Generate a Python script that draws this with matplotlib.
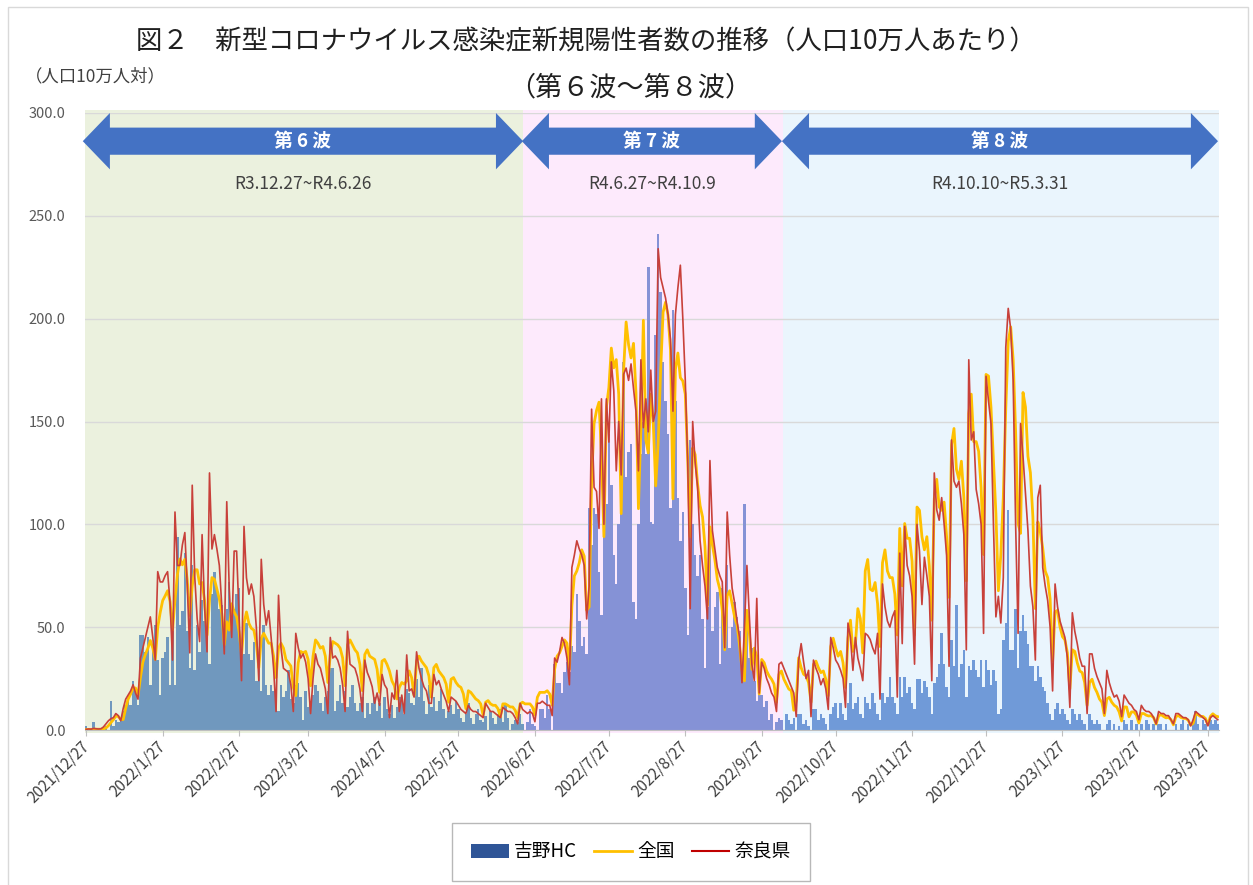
import numpy as np
import pandas as pd
import matplotlib
matplotlib.use('Agg')
import matplotlib.pyplot as plt
from matplotlib.patches import Polygon, Rectangle, Patch
from matplotlib.lines import Line2D

plt.rcParams['font.family'] = ['Noto Sans CJK JP', 'DejaVu Sans']

# daily values per 100k, from 2021/12/27 (one row = one week, Mon..Sun)
start = pd.Timestamp('2021-12-27')

yoshino = [
    2, 0, 0, 4, 0, 0, 0,
    0, 2, 0, 14, 2, 5, 4,
    5, 9, 12, 14, 12, 24, 20,
    12, 46, 46, 38, 45, 22, 40,
    51, 34, 17, 35, 38, 45, 22,
    48, 22, 94, 51, 58, 86, 48,
    30, 80, 29, 51, 38, 63, 53,
    48, 32, 66, 77, 69, 59, 61,
    45, 59, 72, 61, 59, 66, 69,
    40, 37, 52, 37, 34, 43, 24,
    32, 19, 51, 22, 17, 22, 19,
    16, 9, 22, 16, 19, 29, 15,
    13, 22, 23, 16, 5, 19, 11,
    14, 17, 22, 19, 13, 9, 16,
    19, 30, 30, 9, 14, 22, 13,
    19, 11, 16, 22, 13, 9, 13,
    16, 6, 13, 8, 13, 16, 9,
    13, 6, 16, 10, 8, 12, 6,
    11, 16, 14, 8, 20, 18, 13,
    12, 25, 16, 30, 14, 8, 22,
    11, 16, 9, 14, 20, 10, 6,
    9, 12, 8, 14, 10, 6, 4,
    8, 13, 6, 3, 8, 10, 5,
    4, 7, 0, 9, 6, 3, 8,
    10, 4, 12, 6, 0, 3, 5,
    4, 8, 3, 0, 4, 10, 3,
    2, 0, 10, 10, 6, 17, 10,
    0, 32, 23, 23, 18, 28, 33,
    28, 41, 38, 66, 53, 41, 45,
    37, 108, 90, 108, 105, 77, 56,
    98, 110, 144, 119, 85, 71, 100,
    119, 179, 123, 135, 139, 62, 54,
    100, 134, 150, 134, 225, 101, 100,
    192, 241, 213, 179, 160, 144, 108,
    204, 160, 113, 92, 106, 69, 46,
    141, 100, 85, 75, 85, 54, 30,
    60, 95, 48, 60, 67, 32, 69,
    55, 80, 40, 50, 62, 55, 48,
    28, 110, 58, 35, 40, 24, 14,
    20, 17, 11, 14, 5, 8, 0,
    4, 6, 5, 0, 8, 5, 3,
    6, 0, 8, 8, 3, 5, 2,
    0, 10, 10, 5, 8, 6, 3,
    0, 8, 11, 13, 6, 13, 8,
    5, 13, 23, 10, 13, 16, 8,
    6, 16, 13, 10, 18, 13, 8,
    5, 18, 13, 16, 26, 16, 13,
    8, 26, 16, 26, 18, 21, 13,
    10, 25, 25, 18, 24, 21, 16,
    8, 23, 26, 32, 47, 32, 21,
    16, 44, 31, 61, 26, 32, 39,
    16, 31, 29, 34, 29, 26, 34,
    21, 34, 29, 22, 29, 24, 8,
    10, 44, 52, 107, 39, 39, 59,
    30, 48, 56, 48, 42, 31, 31,
    24, 31, 26, 21, 19, 13, 8,
    5, 10, 13, 8, 10, 8, 5,
    3, 10, 8, 5, 8, 5, 3,
    0, 8, 5, 3, 5, 3, 0,
    0, 3, 5, 0, 3, 0, 2,
    0, 5, 3, 0, 5, 0, 3,
    0, 3, 0, 5, 3, 0, 3,
    0, 3, 3, 0, 3, 0, 0,
    0, 3, 0, 3, 5, 0, 3,
    0, 5, 9, 3, 0, 5, 3,
    0, 5, 3, 5, 3,
]

zenkoku = [
    0.2, 0.3, 0.3, 0.4, 0.4, 0.4, 0.4,
    0.6, 1.0, 2.1, 3.6, 5.0, 6.8, 6.6,
    5.1, 5.1, 10.6, 15.0, 17.5, 20.5, 20.4,
    16.5, 25.7, 33.1, 36.8, 39.7, 43.5, 39.9,
    34.3, 49.9, 57.1, 62.9, 65.2, 67.7, 62.5,
    48.6, 63.2, 75.6, 83.2, 80.3, 83.0, 72.6,
    55.7, 70.1, 77.9, 77.9, 71.0, 71.7, 63.0,
    46.1, 63.1, 74.1, 73.3, 68.5, 63.7, 56.6,
    41.4, 52.6, 48.6, 61.4, 57.4, 55.0, 47.8,
    36.7, 51.8, 57.4, 51.8, 49.4, 48.6, 42.2,
    30.3, 44.6, 47.0, 44.6, 42.2, 42.2, 35.9,
    25.5, 39.8, 42.2, 39.8, 34.3, 32.7, 31.1,
    20.7, 16.7, 32.7, 38.2, 37.5, 38.2, 34.3,
    21.5, 35.9, 43.8, 42.2, 39.8, 40.6, 35.9,
    23.1, 36.7, 43.0, 42.2, 41.4, 39.8, 35.1,
    21.5, 41.4, 43.8, 41.4, 39.0, 37.5, 31.9,
    19.1, 36.7, 39.0, 35.9, 35.1, 34.3, 29.5,
    18.3, 33.5, 34.3, 31.9, 28.7, 23.9, 21.5,
    15.1, 20.7, 23.1, 22.3, 23.9, 28.7, 25.5,
    16.7, 33.5, 35.9, 33.5, 31.9, 30.3, 26.3,
    15.9, 30.3, 31.9, 28.7, 27.1, 25.5, 22.3,
    13.5, 24.7, 25.5, 23.1, 21.5, 20.7, 17.5,
    10.4, 19.1, 18.3, 16.7, 15.1, 14.3, 12.7,
    7.2, 13.5, 14.3, 12.7, 12.0, 12.0, 10.4,
    6.4, 12.7, 12.7, 12.0, 11.2, 11.2, 9.6,
    6.0, 12.7, 13.5, 12.7, 12.7, 12.7, 11.2,
    7.2, 15.9, 18.3, 18.3, 18.3, 19.1, 17.5,
    12.0, 29.5, 35.9, 37.5, 40.6, 43.8, 42.2,
    29.5, 60.6, 74.9, 77.3, 81.3, 87.6, 84.5,
    58.2, 59.8, 121.1, 149.0, 155.4, 159.4, 133.9,
    94.0, 157.0, 166.5, 185.7, 176.1, 180.1, 163.3,
    105.2, 175.3, 198.4, 187.3, 180.9, 188.0, 164.1,
    107.6, 147.4, 199.2, 141.0, 134.7, 163.3, 149.8,
    118.7, 139.4, 174.5, 203.2, 208.0, 201.6, 184.9,
    112.4, 175.3, 183.3, 171.3, 169.7, 163.3, 130.7,
    94.0, 137.1, 133.9, 119.5, 109.2, 103.6, 89.2,
    60.6, 98.8, 90.0, 82.9, 73.3, 68.5, 58.2,
    39.0, 65.3, 67.7, 61.4, 55.0, 51.0, 41.4,
    29.5, 23.9, 58.2, 47.0, 29.5, 39.8, 35.9,
    17.5, 34.3, 32.7, 28.7, 26.3, 24.7, 22.3,
    13.5, 27.1, 28.7, 24.7, 22.3, 19.9, 19.1,
    9.6, 14.3, 35.1, 30.3, 27.1, 26.3, 23.1,
    13.5, 31.9, 33.5, 30.3, 27.9, 28.7, 24.7,
    16.7, 40.6, 44.6, 39.8, 35.9, 38.2, 32.7,
    20.7, 44.6, 53.4, 38.2, 41.4, 59.0, 54.2,
    37.5, 77.3, 82.9, 68.5, 67.7, 71.7, 61.4,
    40.6, 81.3, 87.6, 77.3, 74.1, 74.1, 66.1,
    46.2, 98.0, 70.1, 100.4, 93.2, 93.2, 82.1,
    46.2, 108.4, 106.8, 94.0, 87.6, 94.0, 79.7,
    53.4, 112.4, 121.9, 108.4, 106.8, 110.8, 94.0,
    64.5, 138.6, 146.6, 126.7, 121.9, 130.7, 113.1,
    72.5, 153.8, 163.3, 140.2, 140.2, 135.5, 117.9,
    85.3, 172.9, 172.1, 157.0, 130.7, 105.2, 67.7,
    85.3, 113.1, 156.2, 188.8, 196.0, 180.1, 145.0,
    100.4, 95.6, 164.1, 157.0, 133.1, 125.1, 103.6,
    59.0, 101.2, 96.4, 88.4, 77.3, 74.1, 63.7,
    33.5, 57.4, 58.2, 50.2, 45.4, 43.8, 37.5,
    19.9, 39.0, 38.2, 32.7, 28.7, 27.9, 23.1,
    12.0, 23.1, 24.7, 20.7, 18.3, 15.1, 13.5,
    7.0, 15.1, 15.9, 13.5, 12.0, 11.2, 8.8,
    4.4, 11.2, 11.2, 6.4, 8.8, 8.8, 7.2,
    3.4, 8.0, 8.0, 7.2, 6.8, 7.0, 6.0,
    2.9, 6.8, 7.5, 6.6, 5.9, 6.1, 5.1,
    2.5, 6.4, 7.1, 6.1, 5.7, 5.6, 4.8,
    2.4, 3.2, 8.0, 7.4, 6.6, 6.6, 5.6,
    2.6, 6.6, 7.9, 6.9, 6.5,
]

nara = [
    0.3, 0.5, 0.4, 0.8, 0.6, 0.5, 0.6,
    1.5, 3.0, 4.5, 5.5, 6.0, 8.0, 7.0,
    4.5, 10.5, 15.0, 17.0, 19.0, 22.0, 18.0,
    15.0, 35.0, 40.0, 45.0, 50.0, 55.0, 45.0,
    34.0, 77.0, 72.0, 72.0, 75.0, 77.0, 62.0,
    34.0, 106.0, 80.0, 80.0, 90.0, 96.0, 70.0,
    37.5, 119.0, 75.0, 54.0, 43.0, 95.0, 60.0,
    38.0, 125.0, 88.0, 95.0, 88.0, 80.0, 60.0,
    37.0, 111.0, 69.0, 45.0, 87.0, 87.0, 55.0,
    24.0, 99.0, 74.0, 66.0, 71.0, 65.0, 50.0,
    24.0, 83.0, 61.0, 51.0, 58.0, 45.0, 30.0,
    9.0, 65.5, 40.0, 30.0, 29.0, 28.0, 22.0,
    9.0, 47.0, 40.0, 35.0, 37.0, 33.0, 25.0,
    8.0, 25.0, 37.0, 32.0, 30.0, 25.0, 20.0,
    8.0, 45.0, 35.0, 36.0, 34.0, 30.0, 22.0,
    9.0, 48.0, 32.0, 31.0, 30.0, 26.0, 20.0,
    9.0, 34.0, 28.0, 25.0, 21.0, 13.0, 18.0,
    12.0, 27.0, 22.0, 20.0, 6.0, 18.0, 15.0,
    29.0, 9.0, 17.0, 8.0, 36.5, 19.0, 20.0,
    16.0, 38.0, 30.0, 25.0, 21.0, 19.0, 13.0,
    13.0, 27.0, 22.0, 24.0, 20.0, 17.0, 14.0,
    9.0, 16.0, 15.0, 14.0, 12.0, 10.0, 9.0,
    8.0, 12.0, 10.0, 9.0, 9.0, 8.0, 7.0,
    6.0, 13.0, 11.0, 9.0, 9.0, 8.0, 7.0,
    6.0, 11.0, 10.0, 9.0, 9.0, 8.0, 6.0,
    3.0, 13.0, 10.0, 9.0, 8.0, 9.0, 8.0,
    4.0, 13.0, 13.0, 14.0, 13.0, 12.0, 12.0,
    7.0, 35.0, 33.0, 38.0, 45.0, 42.0, 35.0,
    22.0, 79.0, 85.0, 92.0, 88.0, 85.0, 80.0,
    54.0, 70.0, 156.0, 118.0, 116.0, 98.0, 161.0,
    100.0, 161.0, 140.0, 179.0, 165.0, 126.0, 150.0,
    124.0, 173.0, 176.0, 170.0, 178.0, 166.0, 155.0,
    126.0, 180.0, 147.0, 161.0, 145.0, 175.0, 150.0,
    155.0, 234.0, 220.0, 215.0, 210.0, 202.0, 190.0,
    155.0, 202.0, 215.0, 226.0, 200.0, 170.0, 130.0,
    59.0, 150.0, 130.0, 118.0, 92.0, 80.0, 70.0,
    54.0, 131.0, 97.0, 88.0, 79.0, 75.0, 72.0,
    40.0, 106.0, 85.0, 69.0, 62.0, 53.0, 45.0,
    23.0, 50.0, 80.0, 55.0, 32.0, 24.0, 64.0,
    18.0, 33.0, 30.0, 25.0, 22.0, 18.0, 16.0,
    9.0, 32.0, 33.0, 30.0, 27.0, 24.0, 21.0,
    18.0, 6.5, 34.0, 42.0, 33.0, 25.0, 29.0,
    6.5, 34.0, 30.0, 27.0, 22.0, 25.0, 20.0,
    10.0, 45.0, 40.0, 34.0, 32.0, 29.0, 25.0,
    11.0, 52.0, 45.0, 29.0, 45.0, 35.0, 30.0,
    24.0, 47.0, 46.0, 44.0, 40.0, 37.0, 47.0,
    15.0, 71.0, 60.0, 53.0, 50.0, 55.0, 58.0,
    16.0, 86.0, 42.0, 99.0, 80.0, 75.0, 65.0,
    32.0, 100.0, 87.0, 61.0, 84.0, 75.0, 65.0,
    24.0, 125.0, 107.0, 102.0, 113.0, 100.0, 85.0,
    31.0, 141.0, 121.0, 118.0, 121.0, 110.0, 95.0,
    39.0, 180.0, 141.0, 145.0, 117.0, 110.0, 100.0,
    47.0, 172.0, 160.0, 149.0, 100.0, 55.0, 65.0,
    52.0, 74.0, 186.0, 205.0, 195.0, 170.0, 100.0,
    47.0, 149.0, 133.0, 115.0, 97.0, 70.0, 60.0,
    34.0, 113.0, 119.0, 79.0, 70.0, 63.0, 50.0,
    19.0, 71.0, 60.0, 53.0, 49.0, 45.0, 35.0,
    11.0, 57.0, 48.0, 42.0, 35.0, 31.0, 31.0,
    8.0, 37.0, 37.0, 30.0, 26.0, 23.0, 20.0,
    8.0, 29.0, 23.0, 19.0, 16.0, 17.0, 14.0,
    6.5, 17.0, 15.0, 13.0, 12.0, 10.0, 9.0,
    5.0, 12.0, 10.0, 9.0, 9.0, 8.0, 6.0,
    3.0, 9.0, 8.0, 8.0, 7.0, 7.0, 5.0,
    3.0, 8.0, 8.0, 7.0, 6.0, 6.0, 5.0,
    2.0, 5.0, 9.0, 8.0, 7.0, 6.0, 5.0,
    2.0, 6.0, 7.0, 6.0, 5.0,
]

assert len(yoshino) == len(zenkoku) == len(nara) == 460, (len(yoshino), len(zenkoku), len(nara))

series_names = ['吉野HC', '全国', '奈良県']
tick_labels = ['2021/12/27', '2022/1/27', '2022/2/27', '2022/3/27', '2022/4/27',
               '2022/5/27', '2022/6/27', '2022/7/27', '2022/8/27', '2022/9/27',
               '2022/10/27', '2022/11/27', '2022/12/27', '2023/1/27',
               '2023/2/27', '2023/3/27']
wave_names = ['第 6 波', '第 7 波', '第 8 波']
wave_periods = ['R3.12.27~R4.6.26', 'R4.6.27~R4.10.9', 'R4.10.10~R5.3.31']

# layout (in day units along the x axis)
shade_edges = [-0.5, 177.2, 282.6, 459.5]
arrow_edges = [(-1.4, 177.2), (176.7, 282.2), (282.2, 459.1)]
bg_colors = ['#ebf1de', '#fdeafc', '#eaf5fd']
bar_colors = ['#7098be', '#8592d6', '#709ad8']

x = np.arange(len(yoshino))
zone = np.searchsorted(shade_edges[1:3], x)
colors = [bar_colors[z] for z in zone]

fig = plt.figure(figsize=(12.53, 8.85), dpi=100)
ax = fig.add_axes([85 / 1253, 1 - 730 / 885, (1219 - 85) / 1253, (730 - 113) / 885])

for i in range(3):
    ax.add_patch(Rectangle((shade_edges[i], -1.5), shade_edges[i + 1] - shade_edges[i], 303,
                           facecolor=bg_colors[i], edgecolor='none', zorder=0, clip_on=False))

ax.bar(x, yoshino, width=1.0, color=colors, linewidth=0, zorder=2)
ax.plot(x, zenkoku, color='#ffc000', lw=2.0, zorder=3)
ax.plot(x, nara, color='#c8403a', lw=1.2, zorder=4)

# double arrows
yc, hh, sh, hl = 286.3, 13.7, 6.6, 11
for (x0, x1), name, period in zip(arrow_edges, wave_names, wave_periods):
    verts = [(x0, yc), (x0 + hl, yc + hh), (x0 + hl, yc + sh), (x1 - hl, yc + sh),
             (x1 - hl, yc + hh), (x1, yc), (x1 - hl, yc - hh), (x1 - hl, yc - sh),
             (x0 + hl, yc - sh), (x0 + hl, yc - hh)]
    ax.add_patch(Polygon(verts, closed=True, facecolor='#4472c4', edgecolor='none',
                         zorder=5, clip_on=False))
    ax.text((x0 + x1) / 2, yc, name, color='white', fontsize=13.5, fontweight='bold',
            ha='center', va='center', zorder=6)
    ax.text((x0 + x1) / 2, 265.5, period, color='#404040', fontsize=12.5,
            ha='center', va='center', zorder=6)

ax.set_xlim(-0.5, 459.5)
ax.set_ylim(0, 300)
ax.set_yticks(np.arange(0, 301, 50))
ax.set_yticklabels([f'{v:.1f}' for v in np.arange(0, 301, 50)], color='#595959', fontsize=10.5)
tick_days = [(pd.Timestamp(t) - start).days for t in tick_labels]
ax.set_xticks(tick_days)
ax.set_xticklabels(tick_labels, rotation=45, ha='right', va='center',
                   rotation_mode='anchor', fontsize=11, color='#404040')
ax.tick_params(axis='y', length=0, pad=14)
ax.tick_params(axis='x', length=4, color='#bfbfbf', pad=6)
ax.yaxis.grid(True, color='#d9d9d9', lw=1)
ax.set_axisbelow(True)
for s in ['top', 'right', 'left']:
    ax.spines[s].set_visible(False)
ax.spines['bottom'].set_color('#bfbfbf')

fig.text(586 / 1253, 1 - 42 / 885, '図２　新型コロナウイルス感染症新規陽性者数の推移（人口10万人あたり）',
         ha='center', va='center', fontsize=19, color='#202020')
fig.text(630 / 1253, 1 - 88 / 885, '（第６波～第８波）', ha='center', va='center',
         fontsize=19.5, color='#202020')
fig.text(95 / 1253, 1 - 76 / 885, '（人口10万人対）', ha='center', va='center',
         fontsize=12.5, color='#404040')

handles = [Patch(facecolor='#2f5597', edgecolor='none'),
           Line2D([], [], color='#ffc000', lw=2),
           Line2D([], [], color='#c00000', lw=1.5)]
leg = fig.legend(handles, series_names, loc='center', bbox_to_anchor=(631 / 1253, 1 - 852 / 885),
                 ncol=3, frameon=True, fancybox=False, edgecolor='#a6a6a6', fontsize=13.5,
                 handlelength=2.0, handletextpad=0.3, columnspacing=0.9, borderpad=1.0)

fig.patches.append(Rectangle((8 / 1253, -0.01), 1240 / 1253, 1.01 - 7 / 885, transform=fig.transFigure,
                             fill=False, edgecolor='#d9d9d9', lw=1))

fig.savefig('out.png', dpi=100)
